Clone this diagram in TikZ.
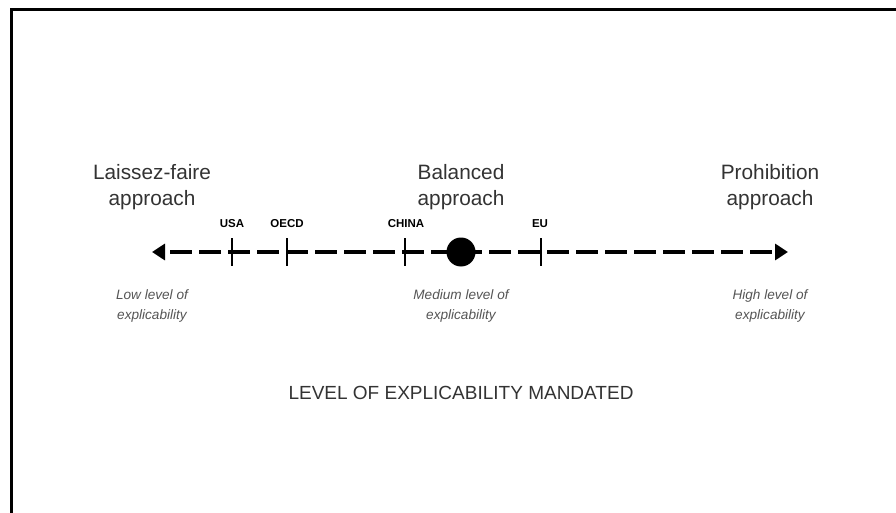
\documentclass[tikz,border=0pt]{standalone}
\usepackage{fontspec}
\setmainfont{Liberation Sans}
\usetikzlibrary{arrows.meta}
\definecolor{txt}{HTML}{333333}
\definecolor{sub}{HTML}{555555}
\begin{document}
\begin{tikzpicture}[x=1pt,y=-1pt,
  frame/.style={line width=3pt,black},
  axis/.style={line width=4.5pt,black,dash pattern=on 22pt off 7pt,dash phase=-6pt,
    {Triangle[length=13pt,width=16pt]}-{Triangle[length=13pt,width=16pt]}},
  tickmark/.style={line width=2pt,black},
  title/.style={anchor=north,inner sep=0pt,align=center,text=txt,
    font=\fontsize{20.8}{26}\selectfont},
  country/.style={anchor=base,inner sep=0pt,text=black,
    font=\fontsize{11.5}{14}\selectfont\bfseries},
  level/.style={anchor=north,inner sep=0pt,align=center,text=sub,
    font=\fontsize{13.6}{20}\selectfont\itshape},
  caption/.style={anchor=base,inner sep=0pt,text=txt,
    font=\fontsize{19}{23}\selectfont}]
\useasboundingbox (0,0) rectangle (896,513);
\fill[white] (0,0) rectangle (896,513);
\draw[frame] (11.5,513) -- (11.5,10) -- (896,10);
% axis
\coordinate (L) at (152,252);
\coordinate (R) at (788,252);
\draw[axis] (L) -- (R);
% ticks
\coordinate (usa) at (232,252);
\coordinate (oecd) at (287,252);
\coordinate (china) at (405,252);
\coordinate (eu) at (541,252);
\foreach \t in {usa,oecd,china,eu}
  \draw[tickmark] ([yshift=14pt]\t) -- ([yshift=-14pt]\t);
\node[circle,fill=black,minimum size=29pt,inner sep=0pt] (bal) at (461,252) {};
% country labels
\node[country] (usaL) at (232,227) {USA};
\node[country] (oecdL) at (287,227) {OECD};
\node[country] (chinaL) at (406,227) {CHINA};
\node[country] (euL) at (540,227) {EU};
% titles
\node[title] (lf) at (152,164) {Laissez-faire\\approach};
\node[title] (ba) at (461,164) {Balanced\\approach};
\node[title] (pr) at (770,164) {Prohibition\\approach};
% levels
\node[level] (low) at (152,289) {Low level of\\explicability};
\node[level] (med) at (461,289) {Medium level of\\explicability};
\node[level] (high) at (770,289) {High level of\\explicability};
% caption
\node[caption] (cap) at (461,399) {LEVEL OF EXPLICABILITY MANDATED};
\end{tikzpicture}
\end{document}
